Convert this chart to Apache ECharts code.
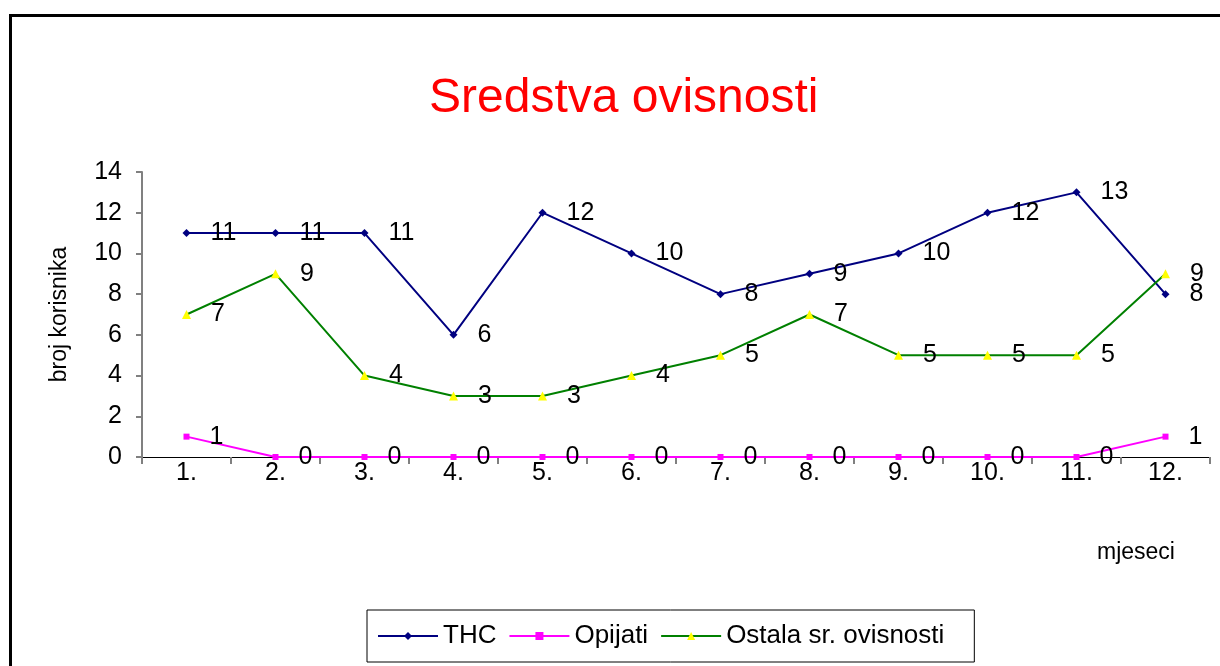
<!DOCTYPE html>
<html lang="hr">
<head>
<meta charset="UTF-8" />
<script src="https://cdn.jsdelivr.net/npm/echarts@6/dist/echarts.min.js"></script>
<style>
html,body{margin:0;padding:0;background:#fff;}
#main{width:1220px;height:666px;}
</style>
</head>
<body>
<div id="main"></div>
<script type="text/javascript">
// podaci
var mjeseci = ['1.', '2.', '3.', '4.', '5.', '6.', '7.', '8.', '9.', '10.', '11.', '12.'];
var thc = [11, 11, 11, 6, 12, 10, 8, 9, 10, 12, 13, 8];
var opijati = [1, 0, 0, 0, 0, 0, 0, 0, 0, 0, 0, 1];
var ostala = [7, 9, 4, 3, 3, 4, 5, 7, 5, 5, 5, 9];

var font = 'Liberation Sans, Arial, sans-serif';
var lbl = {show:true, position:'right', distance:20, color:'#000', fontSize:25, fontFamily:font};

var myChart = echarts.init(document.getElementById('main'));
myChart.setOption({
	animation:false,
	title:{
		text:'Sredstva ovisnosti', left:424, top:70,
		textStyle:{color:'#ff0000', fontSize:48, fontWeight:'normal', fontFamily:font}
	},
	graphic:[
		{type:'rect', left:8, top:13, shape:{width:1240, height:700}, style:{fill:'none', stroke:'#000', lineWidth:3}},
		{type:'text', left:1097, top:541, style:{text:'mjeseci', fontSize:23, fontFamily:font, fill:'#000'}}
	],
	legend:{
		left:367, top:610,
		borderColor:'#000', borderWidth:1, padding:[13,30,13,10],
		itemWidth:60, itemHeight:10, itemGap:12,
		textStyle:{fontSize:26, fontFamily:font, color:'#000'},
		data:['THC', 'Opijati', 'Ostala sr. ovisnosti']
	},
	grid:{left:142, right:10, top:172, bottom:209},
	xAxis:{
		type:'category', data:mjeseci, boundaryGap:true,
		axisLine:{lineStyle:{color:'#000', width:1}},
		axisTick:{show:true, length:7, lineStyle:{color:'#808080', width:2}},
		axisLabel:{color:'#000', fontSize:25, fontFamily:font, margin:4}
	},
	yAxis:{
		type:'value', min:0, max:14, interval:2,
		name:'broj korisnika', nameLocation:'middle', nameGap:71,
		nameTextStyle:{fontSize:23, fontFamily:font, color:'#000'},
		axisLine:{show:true, lineStyle:{color:'#808080', width:2}},
		axisTick:{show:true, length:6, lineStyle:{color:'#808080', width:2}},
		axisLabel:{color:'#000', fontSize:25, fontFamily:font, margin:20},
		splitLine:{show:false}
	},
	series:[
		{name:'THC', type:'line', data:thc, color:'#000080',
			symbol:'diamond', symbolSize:8, lineStyle:{width:2},
			itemStyle:{color:'#000080'}, label:lbl},
		{name:'Opijati', type:'line', data:opijati, color:'#ff00ff',
			symbol:'rect', symbolSize:6, lineStyle:{width:2},
			itemStyle:{color:'#ff00ff'}, label:lbl},
		{name:'Ostala sr. ovisnosti', type:'line', data:ostala, color:'#008000',
			symbol:'triangle', symbolSize:9, lineStyle:{width:2, color:'#008000'},
			itemStyle:{color:'#ffff00'}, label:lbl}
	]
});
</script>
</body>
</html>
